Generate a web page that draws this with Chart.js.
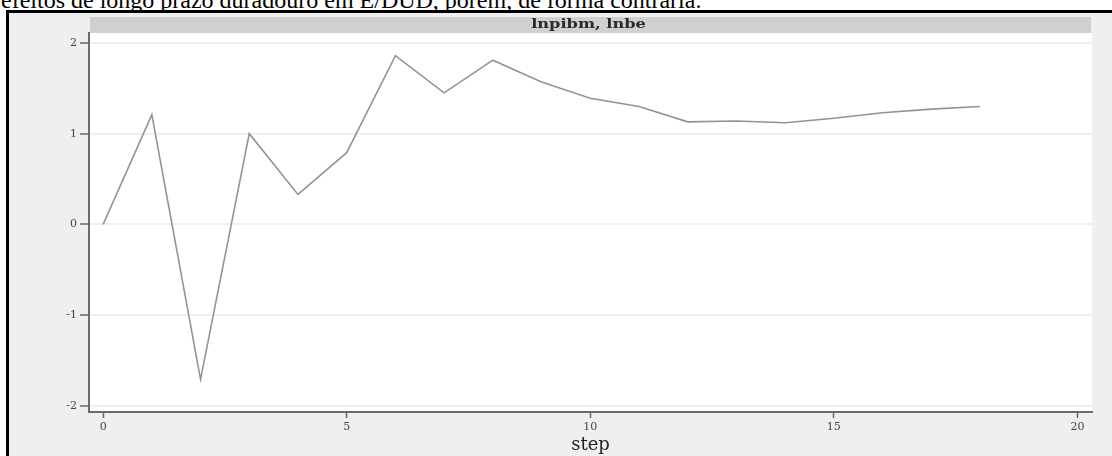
<!DOCTYPE html>
<html>
<head>
<meta charset="utf-8">
<script src="https://cdn.jsdelivr.net/npm/chart.js@4.4.0/dist/chart.umd.min.js"></script>
<style>
  html, body { margin: 0; padding: 0; background: #fff; width: 1112px; height: 456px; overflow: hidden; position: relative; }
  #caption { position: absolute; left: 1px; top: -12px; font: 24px/24px "Liberation Serif", serif; color: #000; white-space: nowrap; }
  #frame { position: absolute; left: 6px; top: 10px; width: 1200px; height: 500px; border-top: 3px solid #000; border-left: 3px solid #000; background: #efefef; }
  #irf { position: absolute; left: 9px; top: 13px; }
</style>
</head>
<body>
<div id="caption">efeitos de longo prazo duradouro em E/DUD, porém, de forma contrária.</div>
<div id="frame"></div>
<canvas id="irf" width="1103" height="443"></canvas>
<script>
// impulse response, lnpibm -> lnbe
const steps = [0, 1, 2, 3, 4, 5, 6, 7, 8, 9, 10, 11, 12, 13, 14, 15, 16, 17, 18];
const irf = [0, 1.21, -1.71, 1.00, 0.33, 0.79, 1.86, 1.45, 1.81, 1.57, 1.39, 1.30, 1.13, 1.14, 1.12, 1.17, 1.23, 1.27, 1.30];
const xTicks = [0, 5, 10, 15, 20];
const yTicks = [-2, -1, 0, 1, 2];
const panelTitle = "lnpibm, lnbe";

// white plot region + grey header strip with the panel name
const panelBand = {
    id: "panelBand",
    beforeDraw(chart) {
        const { ctx, chartArea: a } = chart;
        ctx.save();
        ctx.fillStyle = "#ffffff";
        ctx.fillRect(a.left, a.top, a.right - a.left, a.bottom - a.top);
        ctx.fillStyle = "#d0d0d0";
        ctx.fillRect(a.left + 1, a.top - 16, a.right - a.left - 2, 16);
        ctx.fillStyle = "#2a2a2a";
        ctx.font = "bold 12px 'DejaVu Serif', serif";
        ctx.textAlign = "center";
        ctx.textBaseline = "middle";
        // the source image is stretched sideways, so widen the label a bit
        ctx.translate((a.left + a.right) / 2 - 2, a.top - 8);
        ctx.scale(1.35, 1);
        ctx.fillText(panelTitle, 0, 0);
        ctx.restore();
    },
};

const tickFont = { family: "DejaVu Serif", size: 11 };

new Chart(document.getElementById("irf").getContext("2d"), {
    type: "line",
    data: {
        datasets: [
            {
                data: steps.map((s, i) => ({ x: s, y: irf[i] })),
                borderColor: "#939393",
                borderWidth: 1.6,
                pointRadius: 0,
                tension: 0,
                fill: false,
            },
        ],
    },
    options: {
        responsive: false,
        animation: false,
        layout: { padding: { top: 20, right: 20, left: 0, bottom: 0 } },
        plugins: {
            legend: { display: false },
            tooltip: { enabled: false },
        },
        scales: {
            x: {
                type: "linear",
                min: -0.29,
                max: 20.3,
                afterBuildTicks: (axis) => { axis.ticks = xTicks.map((v) => ({ value: v })); },
                afterFit: (axis) => { axis.height = 44; },
                grid: { drawOnChartArea: false, tickLength: 6, tickColor: "#666", tickWidth: 1.5 },
                border: { color: "#6a6a6a", width: 2 },
                ticks: { color: "#444", padding: 3, font: tickFont },
                title: { display: true, text: "step", color: "#222", padding: { top: 0, bottom: 0 }, font: { family: "DejaVu Serif", size: 18 } },
            },
            y: {
                min: -2.07,
                max: 2.11,
                afterBuildTicks: (axis) => { axis.ticks = yTicks.map((v) => ({ value: v })); },
                afterFit: (axis) => { axis.width = 80; },
                grid: { color: "#f0f0f0", lineWidth: 2, tickLength: 9, tickColor: "#666", tickWidth: 1.5 },
                border: { color: "#6a6a6a", width: 2 },
                ticks: { color: "#444", padding: 3, font: tickFont },
            },
        },
    },
    plugins: [panelBand],
});
</script>
</body>
</html>
